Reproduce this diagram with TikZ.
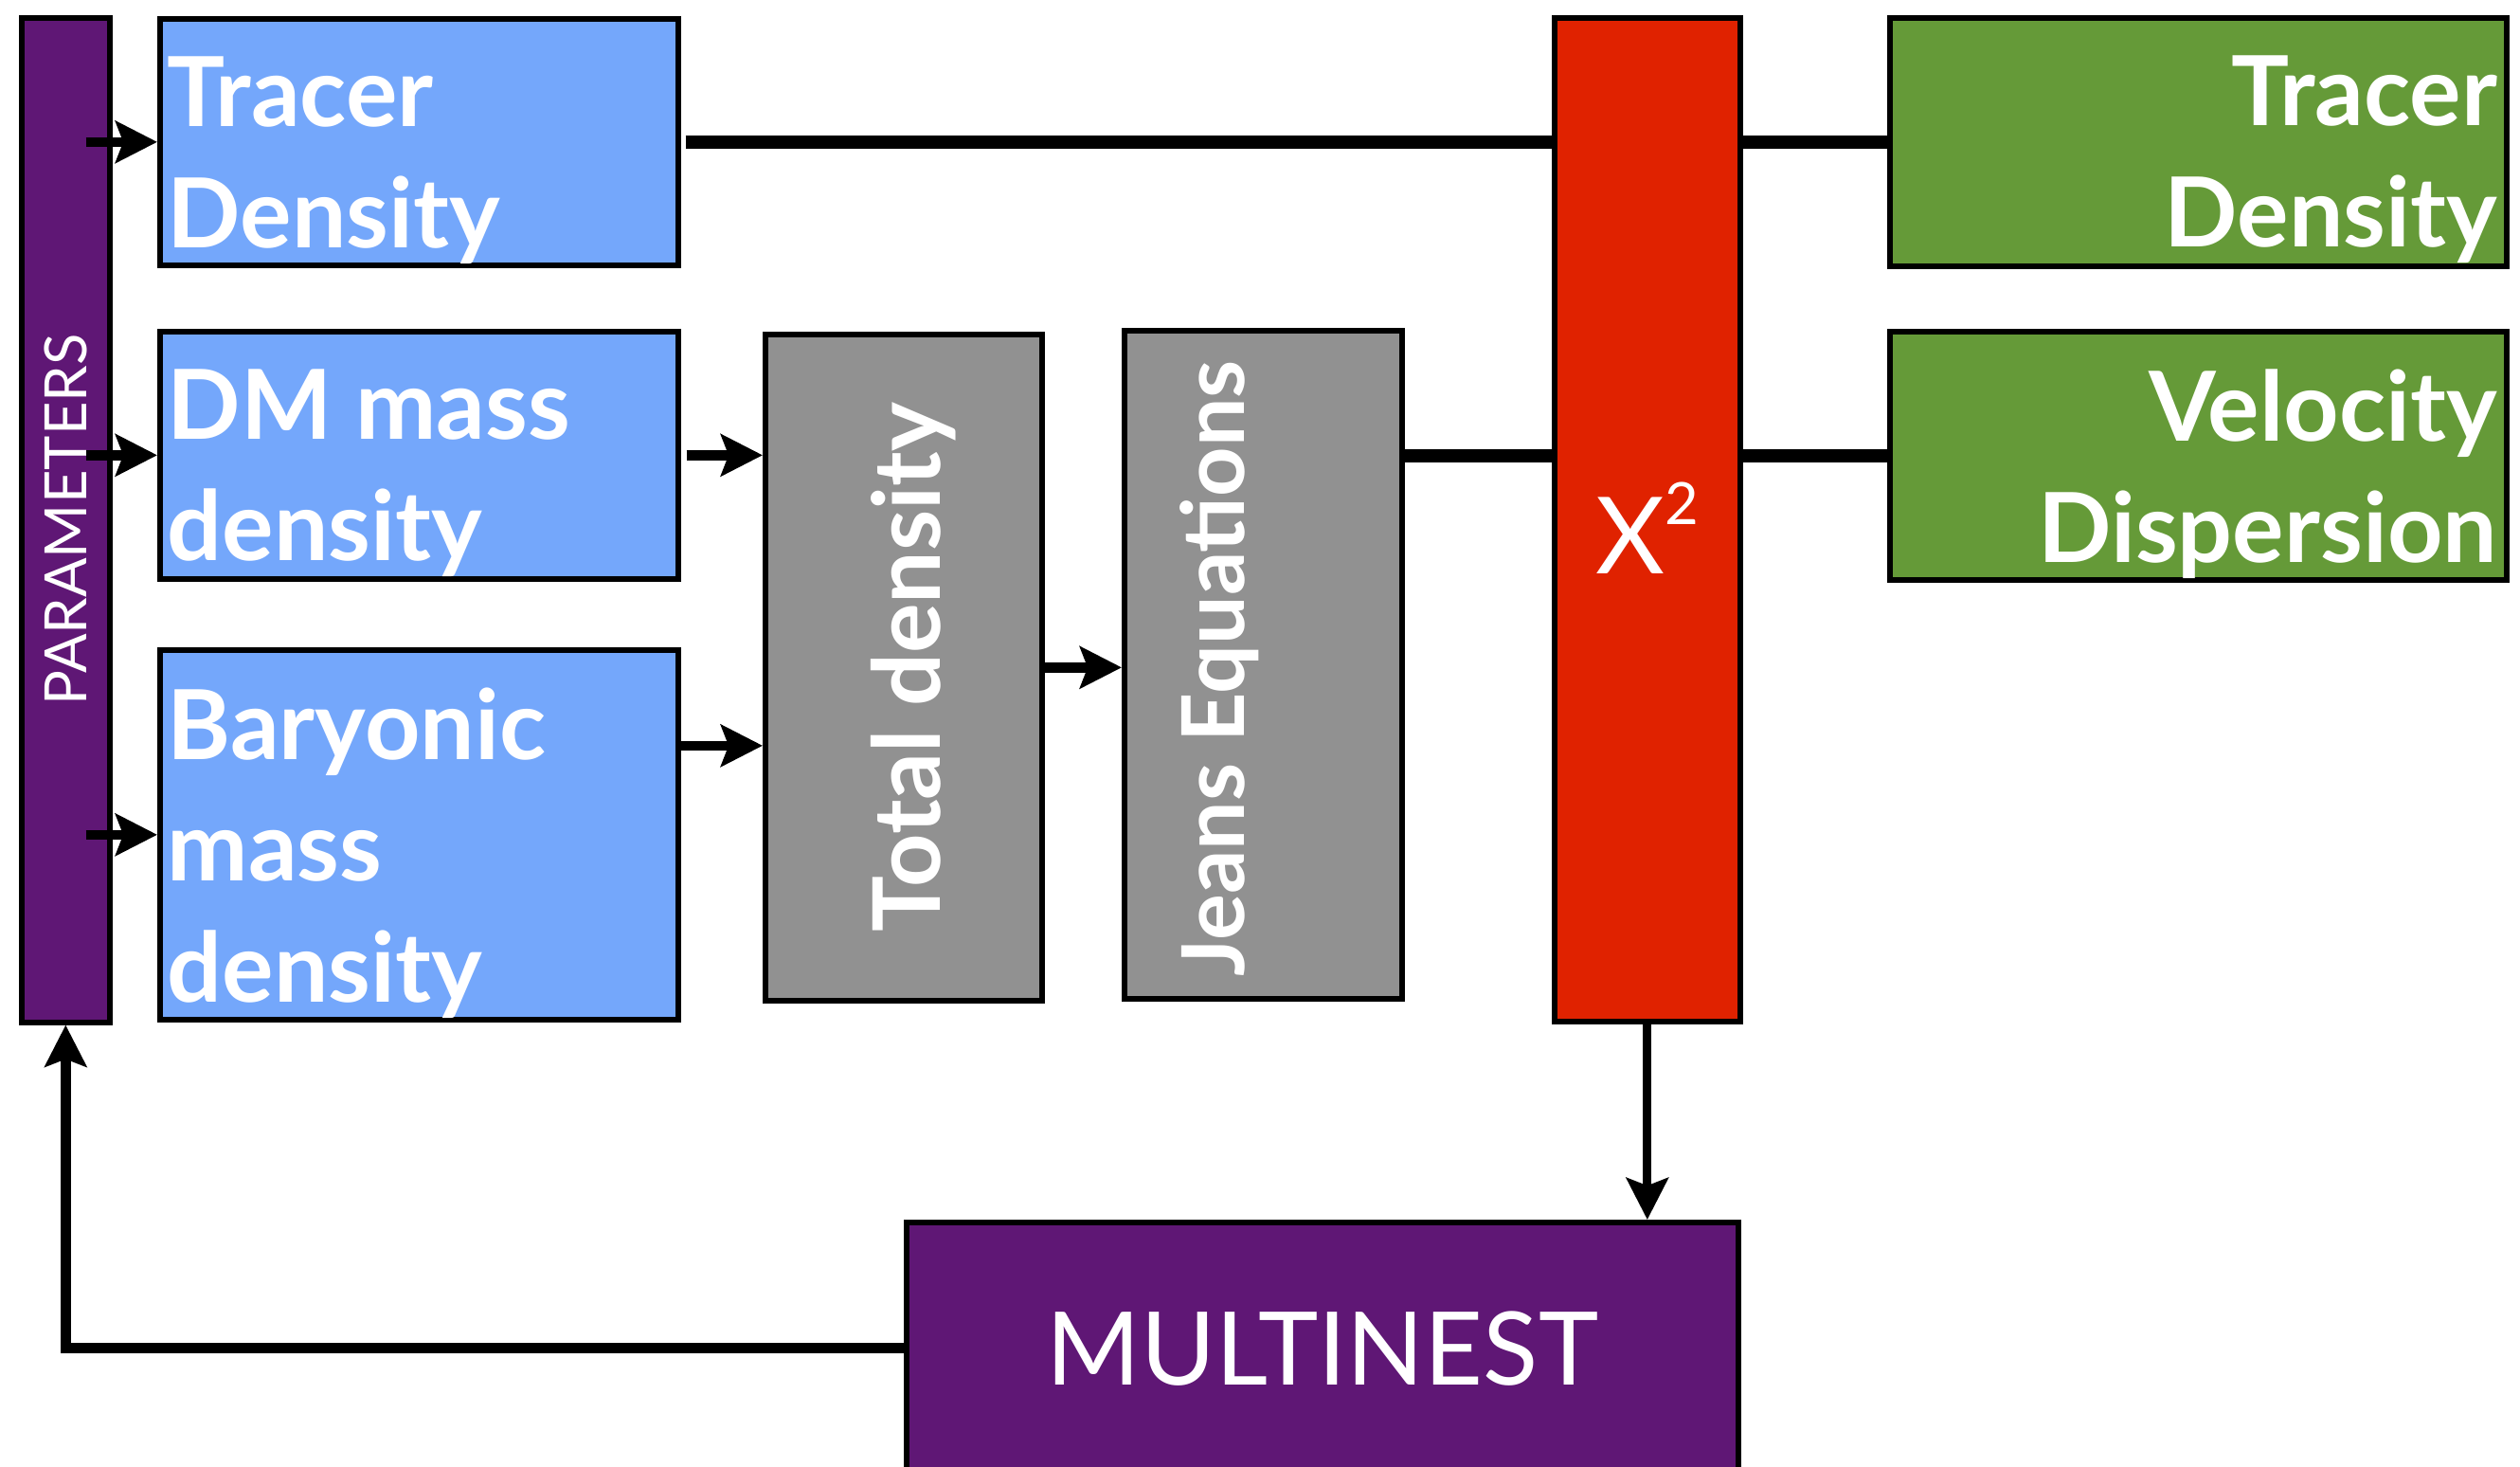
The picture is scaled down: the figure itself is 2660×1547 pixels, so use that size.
\documentclass[tikz,border=0pt]{standalone}
\usepackage{fontspec}
\setmainfont{Lato}
\usepackage{xcolor}
\usetikzlibrary{positioning, arrows.meta}

\newlength{\pix}
\setlength{\pix}{0.01cm}

\definecolor{parpurple}{RGB}{95,23,117}
\definecolor{modblue}{RGB}{116,167,251}
\definecolor{modgray}{RGB}{145,145,145}
\definecolor{chired}{RGB}{224,34,0}
\definecolor{obsgreen}{RGB}{101,154,56}

\tikzset{
    block/.style={draw=black, line width=1.6pt, inner sep=0pt, anchor=north west},
    bigtxt/.style={text=white, inner sep=0pt, font=\bfseries\fontsize{29pt}{36.4pt}\selectfont},
    sidetxt/.style={text=white, inner sep=0pt, rotate=90, anchor=base, font=\bfseries\fontsize{26pt}{30pt}\selectfont},
    arr/.style={-{Stealth[length=12.5pt, width=12.5pt, inset=2.3pt]}, line width=3pt},
    link/.style={line width=4pt},
}

\begin{document}
\begin{tikzpicture}[x=0.01cm, y=-0.01cm]
    \path[fill=white, use as bounding box] (0,0) rectangle (2660,1547);

    % inputs
    \node[block, fill=parpurple, minimum width=93\pix, minimum height=1060\pix, text=white,
          font=\fontsize{17.5pt}{20pt}\selectfont] (params) at (20,16) {\rotatebox{90}{PARAMETERS}};
    \node[block, fill=modblue, minimum width=547\pix, minimum height=260\pix] (trin) at (166,17) {};
    \node[block, fill=modblue, minimum width=547\pix, minimum height=261\pix] (dmin) at (166,347) {};
    \node[block, fill=modblue, minimum width=547\pix, minimum height=390\pix] (barin) at (166,683) {};
    \node[bigtxt, anchor=north west, align=left] (trinl) at ([shift={(10\pix,-42\pix)}]trin.north west) {Tracer\\Density};
    \node[bigtxt, anchor=north west, align=left] (dminl) at ([shift={(10\pix,-42\pix)}]dmin.north west) {DM mass\\density};
    \node[bigtxt, anchor=north west, align=left] (barinl) at ([shift={(10\pix,-42\pix)}]barin.north west) {Baryonic\\mass\\density};

    % model
    \node[block, fill=modgray, minimum width=292\pix, minimum height=703\pix] (total) at (805,350) {};
    \node[block, fill=modgray, minimum width=293\pix, minimum height=705\pix] (jeans) at (1184,346) {};
    \node[sidetxt, font=\bfseries\fontsize{28pt}{30pt}\selectfont] (totall) at ([xshift=39\pix]total.center) {Total density};
    \node[sidetxt] (jeansl) at ([shift={(-20\pix,-4\pix)}]jeans.center) {Jeans Equations};

    % likelihood and data
    \node[block, fill=chired, minimum width=196\pix, minimum height=1059\pix] (chi) at (1638,16) {};
    \node[text=white, inner sep=0pt, anchor=base, font=\fontsize{32pt}{36pt}\selectfont] (chil)
        at ([yshift=-57.5\pix]chi.center) {X\raisebox{14.8pt}{\fontsize{17.5pt}{18pt}\selectfont 2}};
    \node[block, fill=obsgreen, minimum width=651\pix, minimum height=262\pix] (trout) at (1992,16) {};
    \node[block, fill=obsgreen, minimum width=651\pix, minimum height=262\pix] (velout) at (1992,347) {};
    \node[bigtxt, anchor=north east, align=right] (troutl) at ([shift={(-12\pix,-42\pix)}]trout.north east) {Tracer\\Density};
    \node[bigtxt, anchor=north east, align=right] (veloutl) at ([shift={(-12\pix,-42\pix)}]velout.north east) {Velocity\\Dispersion};

    % sampler
    \node[block, fill=parpurple, minimum width=878\pix, minimum height=266\pix, text=white,
          font=\fontsize{30.5pt}{34pt}\selectfont] (multi) at (954,1287) {MULTINEST};

    \foreach \b in {trin, dmin, barin}
        \draw[arr] ([xshift=-28\pix]params.east |- \b.west) -- (\b.west);
    \draw[arr] ([xshift=6\pix]dmin.east) -- (total.west |- dmin.east);
    \draw[arr] ([yshift=94\pix]barin.east) coordinate (bar1) -- (total.west |- bar1);
    \draw[arr] (total.east) -- (jeans.west |- total.east);

    \draw[link] ([xshift=5\pix]trin.east) -- (chi.west |- trin.east);
    \draw[link] (chi.east |- trout.west) -- (trout.west);
    \draw[link] (jeans.east |- velout.west) -- (chi.west |- velout.west);
    \draw[link] (chi.east |- velout.west) -- (velout.west);

    \draw[arr, line width=2.6pt] (chi.south) -- (chi.south |- multi.north);
    \draw[arr, line width=3.1pt] (multi.west) -| (params.south);
\end{tikzpicture}
\end{document}
